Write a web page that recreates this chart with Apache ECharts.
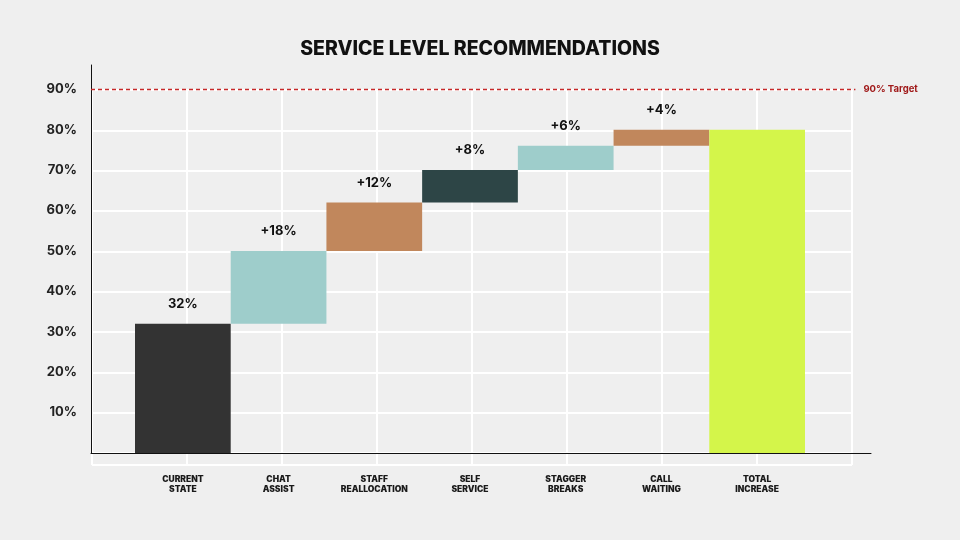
<!DOCTYPE html>
<html>
<head>
<meta charset="utf-8">
<script src="https://cdn.jsdelivr.net/npm/echarts@6/dist/echarts.min.js"></script>
<style>
  html, body { margin: 0; padding: 0; background: #efefef; }
  #chart { width: 960px; height: 540px; }
</style>
</head>
<body>
<div id="chart"></div>
<script>
// 类别和数据
var categories = ['CURRENT\nSTATE', 'CHAT\nASSIST', 'STAFF\nREALLOCATION', 'SELF\nSERVICE', 'STAGGER\nBREAKS', 'CALL\nWAITING', 'TOTAL\nINCREASE'];
var startValue = 32;
var changes = [18, 12, 8, 6, 4];
var totalValue = 80;
var targetValue = 90;
var barColors = ['#333333', '#9ecdcb', '#c1875c', '#2d4546', '#9ecdcb', '#c1875c', '#d4f54a'];

// 瀑布图：透明底座 + 增量
var base = [0];
var delta = [startValue];
var labels = [startValue + '%'];
var run = startValue;
for (var i = 0; i < changes.length; i++) {
    base.push(run);
    delta.push(changes[i]);
    labels.push('+' + changes[i] + '%');
    run += changes[i];
}
base.push(0);
delta.push(totalValue);
labels.push('');

var font = 'Inter, "Open Sans", sans-serif';

var myChart = echarts.init(document.getElementById('chart'));

var option = {
    backgroundColor: '#efefef',
    animation: false,
    title: {
        text: 'SERVICE LEVEL RECOMMENDATIONS',
        left: 'center',
        top: 34,
        textStyle: { fontFamily: font, fontWeight: 800, fontSize: 19.5, color: '#111111' }
    },
    grid: [
        // 背景白色网格
        { left: 92, right: 108, top: 90, bottom: 75 },
        // 坐标轴框
        { left: 91, right: 89, top: 65, bottom: 87 },
        // 柱子
        { left: 135, right: 155, top: 65, bottom: 87 }
    ],
    xAxis: [
        {
            gridIndex: 0, type: 'value', min: 0, max: 8, interval: 1,
            axisLine: { show: false }, axisTick: { show: false }, axisLabel: { show: false },
            splitLine: { show: true, lineStyle: { color: '#ffffff', width: 2 } }
        },
        {
            gridIndex: 1, type: 'value', min: 0, max: 100,
            axisLine: { show: true, onZero: false, lineStyle: { color: '#111111', width: 1 } },
            axisTick: { show: false }, axisLabel: { show: false }, splitLine: { show: false }
        },
        {
            gridIndex: 2, type: 'category', data: categories,
            axisLine: { show: false }, axisTick: { show: false },
            axisLabel: {
                margin: 21, fontFamily: font, fontWeight: 900, fontSize: 8.5,
                lineHeight: 10, color: '#1a1a1a', interval: 0
            },
            splitLine: { show: false }
        }
    ],
    yAxis: [
        {
            gridIndex: 0, type: 'value', min: 0, max: 93, interval: 10, inverse: true,
            axisLine: { show: false }, axisTick: { show: false }, axisLabel: { show: false },
            splitLine: { show: true, lineStyle: { color: '#ffffff', width: 2 } }
        },
        {
            gridIndex: 1, type: 'value', min: 0, max: 96, interval: 10,
            axisLine: { show: true, lineStyle: { color: '#111111', width: 1 } },
            axisTick: { show: false },
            axisLabel: {
                margin: 14, fontFamily: font, fontWeight: 700, fontSize: 13, color: '#222222',
                formatter: function (v) {
                    if (v === 0 || v % 10 !== 0) return '';
                    return v + '%';
                }
            },
            splitLine: { show: false }
        },
        {
            gridIndex: 2, type: 'value', min: 0, max: 96,
            show: false
        }
    ],
    series: [
        {
            type: 'line', xAxisIndex: 1, yAxisIndex: 1, data: [],
            itemStyle: { color: '#c62828' },
            markLine: {
                silent: true, symbol: ['none', 'none'],
                label: {
                    show: true, position: 'end', distance: 8, formatter: '90% Target',
                    fontFamily: font, fontWeight: 700, fontSize: 9.5, color: '#a01a1a'
                },
                data: [[
                    { coord: [0, targetValue], lineStyle: { color: '#c62828', type: [4, 3], width: 1.3 } },
                    { coord: [98, targetValue] }
                ]]
            }
        },
        {
            name: 'base', type: 'bar', stack: 'w', xAxisIndex: 2, yAxisIndex: 2,
            barWidth: '100%', barCategoryGap: '0%',
            itemStyle: { color: 'transparent' },
            data: base
        },
        {
            name: 'delta', type: 'bar', stack: 'w', xAxisIndex: 2, yAxisIndex: 2,
            barWidth: '100%', barCategoryGap: '0%',
            label: {
                show: true, position: 'top', distance: 13,
                fontFamily: font, fontWeight: 700, fontSize: 13, color: '#111111',
                formatter: function (p) { return labels[p.dataIndex]; }
            },
            data: delta.map(function (v, i) {
                return { value: v, itemStyle: { color: barColors[i] } };
            })
        }
    ]
};

myChart.setOption(option);
</script>
</body>
</html>
